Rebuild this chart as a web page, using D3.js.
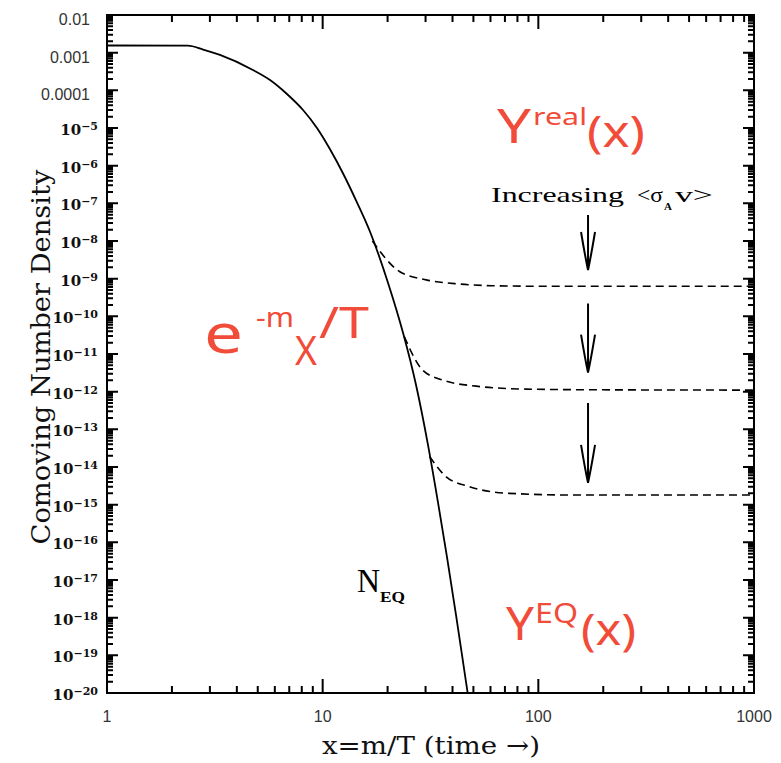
<!DOCTYPE html>
<html>
<head>
<meta charset="utf-8">
<script src="https://cdn.jsdelivr.net/npm/d3@7"></script>
</head>
<body style="margin:0">
<script>
// equilibrium curve
var eqX = [1, 2.37, 2.79, 3.34, 4.75, 5.7, 6.83, 8.11, 9.41, 10.8, 12.4, 14.4, 16.6, 20.1, 23.6, 27.1, 30.8, 34.3, 37.7, 41.5, 45.7, 47.7];
var eqY = [1.55e-3, 1.53e-3, 1.21e-3, 8.7e-4, 3.47e-4, 1.88e-4, 8.0e-5, 3.0e-5, 1.0e-5, 2.77e-6, 6.4e-7, 1.08e-7, 1.73e-8, 7.7e-10, 3.6e-11, 1.5e-12, 3.8e-14, 1.1e-15, 4.1e-17, 1.2e-18, 3.0e-20, 5.8e-21];

// freeze-out branches (dashed)
var b1X = [17.0, 22.7, 30.2, 43, 61, 100, 1000];
var b1Y = [1.0e-8, 1.55e-9, 9.3e-10, 7.2e-10, 6.5e-10, 6.3e-10, 6.3e-10];
var b2X = [23.9, 29, 36.3, 51.5, 87.7, 200, 1000];
var b2Y = [2.9e-11, 3.8e-12, 2.0e-12, 1.4e-12, 1.17e-12, 1.12e-12, 1.1e-12];
var b3X = [31.3, 37.4, 47.9, 73.1, 150, 1000];
var b3Y = [1.9e-14, 5.5e-15, 3.0e-15, 2.0e-15, 1.8e-15, 1.8e-15];

// arrows: x position, start and end values
var arrowX = 170;
var arrowFrom = [4.9e-8, 2.2e-10, 5e-13];
var arrowTo = [1.7e-9, 3.2e-12, 3.8e-15];

var xTicks = [1, 10, 100, 1000];
var xTickLabels = ['1', '10', '100', '1000'];
var xMinor = [2, 3, 4, 5, 6, 7, 8, 9, 20, 30, 40, 50, 60, 70, 80, 90, 200, 300, 400, 500, 600, 700, 800, 900];
var yExps = [-2, -3, -4, -5, -6, -7, -8, -9, -10, -11, -12, -13, -14, -15, -16, -17, -18, -19, -20];
var yPlainLabels = {'-2': '0.01', '-3': '0.001', '-4': '0.0001'};

var L = 107, R = 754, T = 15, B = 693;
var red = '#f14c39';

var svg = d3.select('body').append('svg').attr('width', 781).attr('height', 763);

var x = d3.scaleLog().domain([1, 1000]).range([L, R]);
var y = d3.scaleLog().domain([1e-20, 1e-2]).range([B, T]);

var yMajor = yExps.map(function(k) { return Math.pow(10, k); });
var yMinor = [];
yExps.slice(1).forEach(function(k) {
    [2, 3, 4, 5, 6, 7, 8, 9].forEach(function(m) { yMinor.push(m * Math.pow(10, k)); });
});

// frame
svg.append('path')
    .attr('d', 'M' + L + ',' + T + 'H' + R + 'V' + B + 'H' + L + 'Z')
    .attr('fill', 'none').attr('stroke', '#000').attr('stroke-width', 2);

// ticks, inward on all four sides
var tickPath = '';
xTicks.forEach(function(v) {
    tickPath += 'M' + x(v) + ',' + B + 'v-14M' + x(v) + ',' + T + 'v14';
});
xMinor.forEach(function(v) {
    tickPath += 'M' + x(v) + ',' + B + 'v-7M' + x(v) + ',' + T + 'v7';
});
yMajor.forEach(function(v) {
    tickPath += 'M' + L + ',' + y(v) + 'h11M' + R + ',' + y(v) + 'h-11';
});
yMinor.forEach(function(v) {
    tickPath += 'M' + L + ',' + y(v) + 'h6M' + R + ',' + y(v) + 'h-6';
});
svg.append('path').attr('d', tickPath)
    .attr('fill', 'none').attr('stroke', 'black').attr('stroke-width', 2);

// x tick labels
svg.selectAll('.xl').data(xTicks).enter().append('text')
    .attr('x', function(d) { return x(d); }).attr('y', 722)
    .attr('text-anchor', 'middle').attr('font-family', 'Liberation Sans, Arial, sans-serif')
    .attr('font-size', 16).attr('fill', '#333')
    .text(function(d, i) { return xTickLabels[i]; });

// y tick labels
yExps.forEach(function(k) {
    var yy = y(Math.pow(10, k));
    if (yPlainLabels[k]) {
        svg.append('text').attr('x', 90).attr('y', yy + 10).attr('text-anchor', 'end')
            .attr('font-family', 'Liberation Sans, Arial, sans-serif').attr('font-size', 16).attr('fill', '#333')
            .text(yPlainLabels[k]);
    } else {
        var lab = svg.append('text').attr('x', 98).attr('y', yy + 7).attr('text-anchor', 'end')
            .attr('font-family', 'DejaVu Serif, serif').attr('font-size', 15)
            .attr('font-weight', 'bold').attr('fill', '#111');
        lab.append('tspan').text('10');
        lab.append('tspan').attr('dy', -5).attr('font-size', 11).text('\u2212' + (-k));
    }
});

// axis titles
svg.append('text').attr('transform', 'translate(50,357) rotate(-90)')
    .attr('text-anchor', 'middle').attr('font-family', 'DejaVu Serif, serif').attr('font-size', 26)
    .attr('textLength', 375).attr('lengthAdjust', 'spacingAndGlyphs').attr('fill', '#111')
    .text('Comoving Number Density');
svg.append('text').attr('x', 431).attr('y', 754)
    .attr('text-anchor', 'middle').attr('font-family', 'DejaVu Serif, serif').attr('font-size', 25)
    .attr('textLength', 218).attr('lengthAdjust', 'spacingAndGlyphs').attr('fill', '#111')
    .text('x=m/T (time \u2192)');

// curves
svg.append('clipPath').attr('id', 'clip').append('rect')
    .attr('x', L).attr('y', T).attr('width', R - L).attr('height', B - T);

var line = d3.line()
    .x(function(d) { return x(d[0]); })
    .y(function(d) { return y(d[1]); })
    .curve(d3.curveMonotoneX);

function pairs(xs, ys) { return xs.map(function(v, i) { return [v, ys[i]]; }); }

svg.append('path').datum(pairs(eqX, eqY)).attr('d', line)
    .attr('clip-path', 'url(#clip)').attr('fill', 'none').attr('stroke', '#000').attr('stroke-width', 1.8);

[[b1X, b1Y], [b2X, b2Y], [b3X, b3Y]].forEach(function(b) {
    svg.append('path').datum(pairs(b[0], b[1])).attr('d', line)
        .attr('clip-path', 'url(#clip)').attr('fill', 'none').attr('stroke', '#000')
        .attr('stroke-width', 1.6).attr('stroke-dasharray', '8,5');
});

// arrows
arrowFrom.forEach(function(v, i) {
    var ax = x(arrowX), y0 = y(v), y1 = y(arrowTo[i]);
    svg.append('path')
        .attr('d', 'M' + ax + ',' + y0 + 'L' + ax + ',' + y1 +
            'M' + (ax - 7) + ',' + (y1 - 38) + 'Q' + (ax - 3) + ',' + (y1 - 14) + ' ' + ax + ',' + y1 +
            'M' + (ax + 7) + ',' + (y1 - 38) + 'Q' + (ax + 3) + ',' + (y1 - 14) + ' ' + ax + ',' + y1)
        .attr('fill', 'none').attr('stroke', '#000').attr('stroke-width', 2);
});

// annotations
function txt(s, px, py, size, opts) {
    opts = opts || {};
    var el = svg.append('text').attr('x', px).attr('y', py).attr('font-size', size)
        .attr('font-family', opts.family || 'Noto Sans, sans-serif')
        .attr('fill', opts.fill || red).text(s);
    if (opts.len) el.attr('textLength', opts.len).attr('lengthAdjust', 'spacingAndGlyphs');
    if (opts.weight) el.attr('font-weight', opts.weight);
    return el;
}
txt('Y', 497, 143, 48, {len: 34});
txt('real', 533, 125, 24, {len: 54});
txt('(x)', 587, 147, 44, {len: 58});

txt('e', 204, 353, 54, {len: 39});
txt('-m', 256, 327, 28, {len: 38});
txt('X', 295, 365, 40, {len: 22});
txt('/T', 319, 338, 44, {len: 50});

txt('Y', 506, 640, 46, {len: 28});
txt('EQ', 535, 623, 28, {len: 43});
txt('(x)', 581, 645, 44, {len: 55});

var serif = 'Liberation Serif, Times New Roman, serif';
txt('N', 357, 592, 34, {family: serif, fill: '#000', len: 23});
txt('EQ', 380, 602, 15, {family: serif, fill: '#000', weight: 'bold', len: 25});

txt('Increasing', 491, 202, 22, {family: serif, fill: '#000', len: 133});
txt('<\u03c3', 637, 202, 22, {family: serif, fill: '#000', len: 26});
txt('A', 664, 210, 11, {family: serif, fill: '#000', weight: 'bold'});
txt('v>', 675, 202, 22, {family: serif, fill: '#000', len: 38});
</script>
</body>
</html>
